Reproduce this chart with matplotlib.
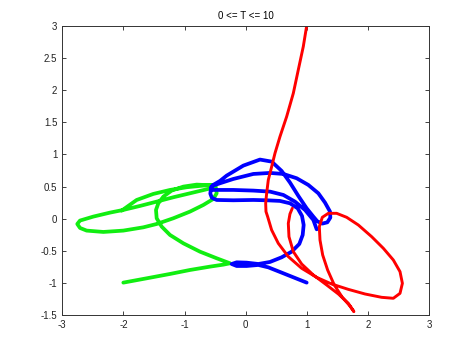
import matplotlib
matplotlib.use("Agg")
import matplotlib.pyplot as plt

# traced paths of the three bodies, 0 <= T <= 10
red_x = [0.995, 0.940, 0.858, 0.777, 0.668, 0.559, 0.477, 0.423, 0.368, 0.341, 0.325, 0.330,
         0.357, 0.422, 0.531, 0.695, 0.913, 1.158, 1.404, 1.676, 1.949, 2.221, 2.412, 2.521,
         2.560, 2.521, 2.412, 2.249, 2.058, 1.840, 1.649, 1.485, 1.349, 1.251, 1.202, 1.213,
         1.257, 1.338, 1.447, 1.578, 1.703, 1.768, 1.676, 1.513, 1.322, 1.104, 0.913, 0.777,
         0.706, 0.695, 0.722, 0.760]
red_y = [3.000, 2.680, 2.316, 1.953, 1.589, 1.278, 1.018, 0.810, 0.603, 0.395, 0.239, 0.110,
         0.032, -0.176, -0.384, -0.591, -0.773, -0.914, -1.018, -1.101, -1.173, -1.225, -1.240, -1.163,
         -1.007, -0.825, -0.644, -0.462, -0.281, -0.099, 0.021, 0.083, 0.083, 0.021, -0.125, -0.333,
         -0.566, -0.800, -1.033, -1.225, -1.360, -1.448, -1.318, -1.173, -1.033, -0.877, -0.706, -0.514,
         -0.281, -0.073, 0.073, 0.161]

green_x = [-2.002, -1.621, -1.239, -0.912, -0.585, -0.367, -0.258, -0.476, -0.749, -1.021, -1.239,
           -1.375, -1.457, -1.468, -1.430, -1.348, -1.212, -1.021, -0.803, -0.585, -0.487, -0.476,
           -0.531, -0.694, -0.912, -1.185, -1.457, -1.675, -2.002, -2.329, -2.602, -2.710, -2.755,
           -2.711, -2.493, -2.220, -2.002, -1.730, -1.457, -1.185, -0.912, -0.640, -0.504, -0.487,
           -0.585, -0.694, -0.967, -1.239, -1.512, -1.784, -2.029]
green_y = [-0.996, -0.929, -0.861, -0.799, -0.747, -0.716, -0.695, -0.617, -0.514, -0.384, -0.254,
           -0.124, 0.006, 0.136, 0.239, 0.343, 0.437, 0.499, 0.530, 0.520, 0.473, 0.395,
           0.307, 0.213, 0.110, 0.006, -0.083, -0.135, -0.186, -0.207, -0.186, -0.145, -0.083,
           -0.030, 0.032, 0.094, 0.136, 0.198, 0.265, 0.333, 0.395, 0.457, 0.489, 0.520,
           0.525, 0.515, 0.489, 0.447, 0.385, 0.291, 0.125]

blue_x = [0.995, 0.777, 0.559, 0.368, 0.205, 0.014, -0.149, -0.231, -0.149, 0.014, 0.205, 0.396,
          0.586, 0.750, 0.875, 0.930, 0.946, 0.919, 0.848, 0.723, 0.559, 0.341, 0.123, -0.204,
          -0.476, -0.555, -0.580, -0.570, -0.542, -0.422, -0.313, -0.040, 0.232, 0.423, 0.586,
          0.723, 0.859, 0.995, 1.104, 1.169, 1.251, 1.333, 1.382, 1.377, 1.295, 1.186, 1.022,
          0.832, 0.614, 0.396, 0.123, -0.204, -0.422, -0.531, -0.570, -0.531, -0.204, 0.123,
          0.396, 0.614, 0.804, 0.968, 1.104, 1.159]
blue_y = [-0.996, -0.913, -0.830, -0.758, -0.721, -0.737, -0.737, -0.706, -0.680, -0.685, -0.706, -0.674,
          -0.602, -0.514, -0.394, -0.254, -0.098, 0.042, 0.161, 0.239, 0.276, 0.286, 0.291, 0.286,
          0.291, 0.325, 0.390, 0.465, 0.520, 0.587, 0.670, 0.826, 0.920, 0.888, 0.743,
          0.561, 0.354, 0.161, 0.032, -0.041, -0.077, -0.057, 0.016, 0.110, 0.250, 0.395, 0.525,
          0.629, 0.696, 0.712, 0.696, 0.618, 0.551, 0.515, 0.485, 0.447, 0.447, 0.437,
          0.421, 0.369, 0.265, 0.136, -0.020, -0.166]

x_ticks = [-3, -2, -1, 0, 1, 2, 3]
y_ticks = [-1.5, -1, -0.5, 0, 0.5, 1, 1.5, 2, 2.5, 3]

plt.rcParams['font.family'] = ['Liberation Sans', 'DejaVu Sans']

fig = plt.figure(figsize=(4.74, 3.54), dpi=100)
ax = fig.add_axes([0.1314, 0.1102, 0.7743, 0.8164])

ax.plot(green_x, green_y, color='#11ee11', lw=2.7, solid_capstyle='round', solid_joinstyle='round')
ax.plot(blue_x, blue_y, color='#0000ff', lw=2.7, solid_capstyle='round', solid_joinstyle='round')
ax.plot(red_x, red_y, color='#ff0000', lw=2.1, solid_capstyle='round', solid_joinstyle='round')

ax.set_xlim(-3, 3)
ax.set_ylim(-1.5, 3)
ax.set_xticks(x_ticks)
ax.set_yticks(y_ticks)
ax.set_xticklabels([str(t) for t in x_ticks])
ax.set_yticklabels([('%g' % t) for t in y_ticks])
ax.tick_params(direction='in', length=3, width=0.6, top=True, right=True,
               labelsize=7, colors='#222222', pad=3.5)
for s in ax.spines.values():
    s.set_linewidth(0.7)
    s.set_color('#333333')

ax.set_title('0 <= T <= 10', fontsize=7, pad=5)

fig.savefig('out.png', dpi=100)
